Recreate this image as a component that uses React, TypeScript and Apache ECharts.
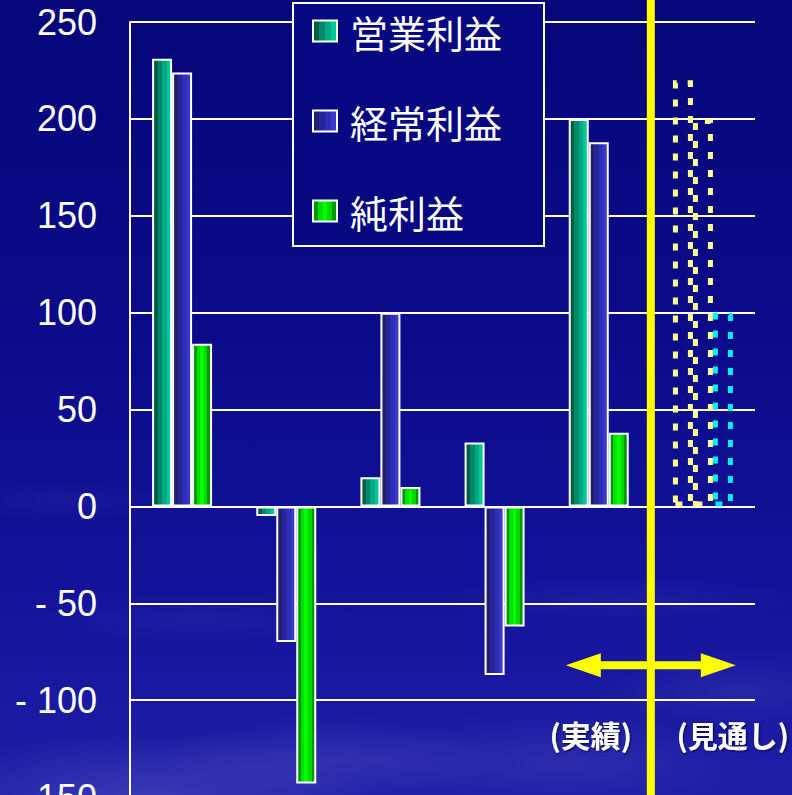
import React, { useEffect, useRef } from "react";
import * as echarts from "echarts";

const categories = ["第1期", "第2期", "第3期", "第4期", "第5期", "見通し"];
const operatingProfit = [231, -5, 15, 33, 200, 220];
const ordinaryProfit = [224, -70, 100, -87, 188, 200];
const netProfit = [84, -143, 10, -62, 38, 100];
const seriesNames = ["営業利益", "経常利益", "純利益"];
const yTicks = { min: -150, max: 250, interval: 50 };
const periodLabels = ["(実績)", "(見通し)"];

const stripes = (cols: string[]) => {
  const stops: { offset: number; color: string }[] = [];
  cols.forEach((c, i) => {
    stops.push({ offset: i / cols.length, color: c });
    stops.push({ offset: (i + 1) / cols.length, color: c });
  });
  return new echarts.graphic.LinearGradient(0, 0, 1, 0, stops);
};

export default function App() {
  const ref = useRef<HTMLDivElement>(null);
  useEffect(() => {
    if (!ref.current) return;
    const chart = echarts.init(ref.current, null, { renderer: "svg" });
    const fills = [
      stripes(["#005e44", "#00886a", "#00aa84", "#00c898"]),
      stripes(["#202070", "#26269a", "#2e2eb8", "#3838cc"]),
      stripes(["#009800", "#00e000", "#00ff00", "#00d800", "#009a00"]),
    ];
    const forecastColors = ["#ffff90", "#ffff90", "#00f0ff"];
    const mk = (name: string, vals: number[], i: number) => ({
      name,
      type: "bar",
      barWidth: 20,
      barGap: "0%",
      z: 3,
      itemStyle: { color: fills[i], borderColor: "#ffffff", borderWidth: 2 },
      data: vals.map((v, k) =>
        k === vals.length - 1
          ? {
              value: v,
              itemStyle: {
                color: "rgba(0,0,0,0)",
                borderColor: forecastColors[i],
                borderWidth: 5,
                borderType: [7, 11],
              },
            }
          : v
      ),
    });
    const clouds = [
      { cx: 150, cy: 800, rx: 220, ry: 70, o: 0.22 },
      { cx: 330, cy: 760, rx: 170, ry: 45, o: 0.16 },
      { cx: 560, cy: 760, rx: 200, ry: 50, o: 0.12 },
      { cx: 740, cy: 690, rx: 150, ry: 40, o: 0.1 },
      { cx: 200, cy: 620, rx: 170, ry: 25, o: 0.07 },
      { cx: 620, cy: 600, rx: 190, ry: 25, o: 0.07 },
      { cx: 60, cy: 500, rx: 110, ry: 20, o: 0.06 },
    ].map((c) => ({
      type: "ellipse",
      z: -10,
      silent: true,
      shape: { cx: c.cx, cy: c.cy, rx: c.rx, ry: c.ry },
      style: {
        fill: new echarts.graphic.RadialGradient(0.5, 0.5, 0.5, [
          { offset: 0, color: `rgba(160,160,240,${c.o})` },
          { offset: 1, color: "rgba(160,160,240,0)" },
        ]),
      },
    }));
    chart.setOption({
      animation: false,
      backgroundColor: new echarts.graphic.LinearGradient(0, 0, 0, 1, [
        { offset: 0, color: "#06067a" },
        { offset: 0.45, color: "#0c0c8c" },
        { offset: 0.75, color: "#14149c" },
        { offset: 1, color: "#2020a8" },
      ]),
      grid: { left: 130, right: 37, top: 22, bottom: 23 },
      legend: {
        data: seriesNames,
        orient: "vertical",
        left: 293,
        top: 3,
        icon: "rect",
        itemWidth: 24,
        itemHeight: 21,
        itemGap: 50,
        padding: [8, 42, 15, 19],
        backgroundColor: "#080882",
        borderColor: "#ffffff",
        borderWidth: 2,
        z: 5,
        textStyle: {
          color: "#ffffff",
          fontSize: 38,
          lineHeight: 40,
          fontFamily: "Noto Sans CJK JP",
          padding: [0, 0, 0, 8],
        },
      },
      xAxis: {
        type: "category",
        data: categories,
        axisLine: { show: false },
        axisTick: { show: false },
        axisLabel: { show: false },
        splitLine: { show: false },
      },
      yAxis: {
        type: "value",
        min: yTicks.min,
        max: yTicks.max,
        interval: yTicks.interval,
        axisLine: { show: true, lineStyle: { color: "#ffffff", width: 2 } },
        axisTick: { show: false },
        splitLine: { show: true, lineStyle: { color: "#ffffff", width: 2 } },
        axisLabel: {
          color: "#ffffff",
          fontSize: 36,
          fontFamily: "Liberation Sans, Arial, sans-serif",
          margin: 33,
          formatter: (v: number) => (v < 0 ? "- " + Math.abs(v) : String(v)),
        },
      },
      series: [
        mk(seriesNames[0], operatingProfit, 0),
        mk(seriesNames[1], ordinaryProfit, 1),
        mk(seriesNames[2], netProfit, 2),
      ],
      graphic: clouds,
    });
    const p4 = chart.convertToPixel({ xAxisIndex: 0 }, 4) as number;
    const p5 = chart.convertToPixel({ xAxisIndex: 0 }, 5) as number;
    const mid = (p4 + p5) / 2;
    const ay = chart.convertToPixel({ yAxisIndex: 0 }, -82) as number;
    const ty = chart.convertToPixel({ yAxisIndex: 0 }, -117.5) as number;
    const x0 = mid - 85;
    const x1 = mid + 85;
    const hl = 35;
    const hh = 12;
    const sh = 4;
    const labelStyle = {
      fill: "#ffffff",
      font: "bold 30px 'Noto Sans CJK JP'",
      align: "center",
      verticalAlign: "middle",
      textShadowColor: "rgba(0,0,40,0.8)",
      textShadowBlur: 2,
      textShadowOffsetX: 1,
      textShadowOffsetY: 1,
    };
    chart.setOption({
      graphic: [
        ...clouds,
        {
          type: "line",
          z: 20,
          shape: { x1: mid, y1: 0, x2: mid, y2: 820 },
          style: { stroke: "#ffff00", lineWidth: 8 },
        },
        {
          type: "polygon",
          z: 21,
          shape: {
            points: [
              [x0, ay],
              [x0 + hl, ay - hh],
              [x0 + hl, ay - sh],
              [x1 - hl, ay - sh],
              [x1 - hl, ay - hh],
              [x1, ay],
              [x1 - hl, ay + hh],
              [x1 - hl, ay + sh],
              [x0 + hl, ay + sh],
              [x0 + hl, ay + hh],
            ],
          },
          style: { fill: "#ffff00" },
        },
        {
          type: "text",
          z: 22,
          x: mid - 60,
          y: ty,
          style: { ...labelStyle, text: periodLabels[0] },
        },
        {
          type: "text",
          z: 22,
          x: mid + 82,
          y: ty,
          style: { ...labelStyle, text: periodLabels[1] },
        },
      ],
    });
    return () => chart.dispose();
  }, []);
  return (
    <div
      ref={ref}
      style={{ position: "fixed", left: 0, top: 0, width: 792, height: 820 }}
    />
  );
}
